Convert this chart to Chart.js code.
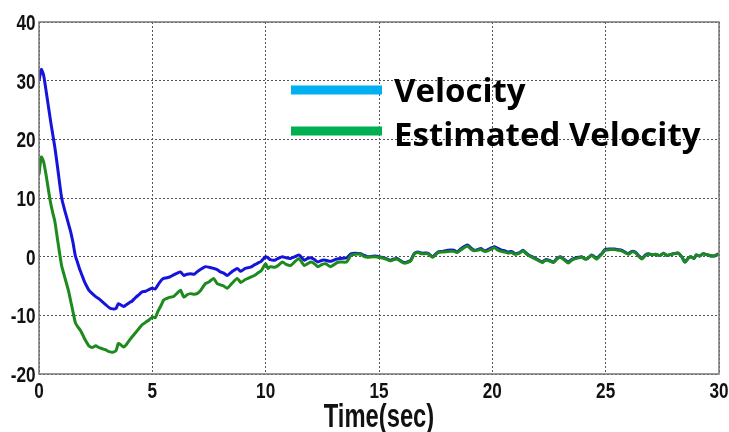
<!DOCTYPE html>
<html>
<head>
<meta charset="utf-8">
<script src="https://cdn.jsdelivr.net/npm/chart.js@4"></script>
<style>
  html, body { margin: 0; padding: 0; background: #fff; }
  #wrap { width: 729px; height: 432px; }
</style>
</head>
<body>
<div id="wrap"><canvas id="myChart" width="729" height="432"></canvas></div>
<script>
// time (sec)
const timeSec = [
  0.00, 0.10, 0.20, 0.30, 0.40, 0.50, 0.60, 0.70, 0.80, 0.90,
  1.00, 1.10, 1.20, 1.30, 1.40, 1.50, 1.60, 1.70, 1.80, 1.90,
  2.00, 2.10, 2.20, 2.35, 2.50, 2.65, 2.80, 2.95, 3.10, 3.25,
  3.40, 3.50, 3.60, 3.73, 3.85, 4.00, 4.10, 4.25, 4.40, 4.55,
  4.70, 4.85, 5.00, 5.13, 5.25, 5.40, 5.50, 5.65, 5.80, 5.94,
  6.10, 6.24, 6.39, 6.53, 6.68, 6.85, 6.97, 7.12, 7.34, 7.50,
  7.70, 7.86, 8.00, 8.15, 8.30, 8.50, 8.75, 8.90, 9.10, 9.33,
  9.50, 9.65, 9.80, 10.00, 10.10, 10.20, 10.40, 10.55, 10.74, 10.90,
  11.10, 11.30, 11.47, 11.60, 11.70, 11.85, 12.00, 12.15, 12.30, 12.50,
  12.65, 12.85, 13.00, 13.15, 13.30, 13.57, 13.76, 13.95, 14.20, 14.35,
  14.50, 14.80, 15.10, 15.30, 15.50, 15.65, 15.80, 16.00, 16.10, 16.25,
  16.40, 16.55, 16.70, 16.90, 17.15, 17.37, 17.60, 17.80, 18.04, 18.30,
  18.45, 18.63, 18.90, 19.05, 19.20, 19.35, 19.50, 19.65, 19.80, 19.95,
  20.10, 20.25, 20.40, 20.55, 20.70, 20.85, 21.00, 21.20, 21.35, 21.50,
  21.60, 21.75, 21.90, 22.05, 22.20, 22.35, 22.50, 22.70, 22.85, 23.00,
  23.15, 23.35, 23.50, 23.60, 23.80, 23.94, 24.10, 24.20, 24.38, 24.50,
  24.60, 24.82, 24.97, 25.20, 25.40, 25.55, 25.70, 25.85, 26.00, 26.15,
  26.30, 26.45, 26.60, 26.75, 26.90, 27.05, 27.20, 27.40, 27.55, 27.70,
  27.80, 28.00, 28.20, 28.35, 28.50, 28.65, 28.75, 28.90, 29.00, 29.15,
  29.30, 29.50, 29.70, 29.85, 30.00
];

const velocity = [
  30.0, 31.9, 31.0, 28.6, 26.0, 23.4, 21.0, 18.6, 15.8, 12.8,
  10.0, 8.4, 7.0, 5.6, 4.2, 2.4, 0.2, -1.0, -2.2, -3.2,
  -4.2, -5.0, -5.7, -6.3, -6.8, -7.2, -7.7, -8.2, -8.7, -8.9,
  -8.8, -8.0, -8.2, -8.5, -8.2, -7.8, -7.6, -7.0, -6.5, -6.0,
  -5.9, -5.6, -5.4, -5.5, -4.8, -4.0, -3.7, -3.6, -3.4, -3.1,
  -2.8, -2.6, -3.2, -3.0, -2.9, -3.0, -2.6, -2.2, -1.7, -1.8,
  -2.0, -2.2, -2.6, -2.8, -3.2, -2.6, -2.0, -2.5, -2.0, -1.8,
  -1.4, -1.1, -0.8, 0.0, -0.2, -0.5, -0.6, -0.3, 0.0, -0.2,
  -0.3, 0.0, 0.3, -0.2, -0.6, -0.3, -0.2, -0.5, -0.9, -0.6,
  -0.6, -0.8, -0.6, -0.4, -0.3, -0.2, 0.5, 0.6, 0.5, 0.2,
  0.0, 0.1, -0.1, -0.3, -0.6, -0.4, -0.3, -0.8, -1.0, -0.9,
  -0.6, 0.5, 0.8, 0.6, 0.6, 0.0, 0.8, 0.9, 1.1, 1.1,
  0.8, 1.4, 2.0, 1.5, 1.1, 1.2, 1.4, 1.0, 1.2, 1.5,
  1.7, 1.4, 1.1, 1.0, 0.8, 0.9, 0.5, 0.7, 1.1, 0.6,
  0.3, 0.0, -0.3, -0.6, -0.9, -0.5, -0.6, -0.9, -0.3, 0.0,
  -0.4, -0.9, -0.5, -0.3, -0.1, 0.0, -0.4, -0.3, 0.3, 0.0,
  -0.3, 0.5, 1.2, 1.3, 1.3, 1.2, 1.1, 0.8, 0.5, 0.9,
  0.8, 0.2, -0.3, 0.3, 0.5, 0.3, 0.4, 0.2, 0.6, 0.2,
  0.3, 0.5, 0.6, 0.0, -0.9, -0.2, 0.0, -0.3, 0.3, 0.1,
  0.5, 0.3, 0.1, 0.2, 0.5
];

const estimatedVelocity = [
  14.0, 17.0, 16.2, 14.2, 11.8, 9.4, 7.6, 6.0, 3.4, 0.8,
  -1.6, -3.0, -4.4, -5.8, -7.6, -9.4, -11.2, -11.9, -12.4, -13.1,
  -13.9, -14.6, -15.2, -15.5, -15.2, -15.5, -15.7, -15.9, -16.2, -16.3,
  -16.0, -14.8, -15.0, -15.4, -15.0, -14.2, -13.7, -13.0, -12.3, -11.6,
  -11.2, -10.8, -10.3, -10.4, -9.3, -8.2, -7.4, -7.1, -6.9, -6.8,
  -6.2, -5.7, -6.9, -6.5, -6.3, -6.4, -6.3, -5.8, -4.6, -4.3,
  -3.7, -4.6, -4.8, -5.0, -5.4, -4.6, -3.7, -4.4, -3.9, -3.5,
  -3.2, -2.8, -2.4, -1.2, -2.0, -1.7, -1.8, -1.5, -0.9, -1.3,
  -1.5, -0.8, -0.3, -1.0, -1.5, -1.2, -0.9, -1.2, -1.7, -1.3,
  -1.2, -1.7, -1.4, -1.0, -0.9, -0.9, 0.2, 0.4, 0.4, 0.0,
  -0.1, 0.0, -0.2, -0.4, -0.7, -0.5, -0.4, -0.9, -1.1, -1.0,
  -0.7, 0.4, 0.7, 0.5, 0.5, -0.1, 0.7, 0.8, 0.9, 0.9,
  0.7, 1.2, 1.8, 1.3, 1.0, 1.1, 1.2, 0.9, 1.0, 1.3,
  1.5, 1.1, 0.9, 0.8, 0.6, 0.7, 0.4, 0.6, 1.0, 0.5,
  0.2, -0.1, -0.4, -0.7, -1.0, -0.6, -0.7, -1.0, -0.4, -0.1,
  -0.5, -1.1, -0.6, -0.4, -0.2, -0.1, -0.4, -0.3, 0.2, -0.1,
  -0.4, 0.4, 1.1, 1.2, 1.2, 1.1, 1.0, 0.7, 0.4, 0.8,
  0.7, 0.1, -0.4, 0.2, 0.4, 0.3, 0.4, 0.2, 0.6, 0.2,
  0.3, 0.5, 0.6, 0.0, -0.9, -0.2, 0.0, -0.3, 0.3, 0.1,
  0.5, 0.3, 0.1, 0.2, 0.5
];

const seriesLabels = ["Velocity", "Estimated Velocity"];
const legendColors = ["#00b0f0", "#00b050"];
const xTitle = "Time(sec)";

// narrow bold labels: the scale's own ticks, squeezed sideways
const narrowLabels = {
  id: "narrowLabels",
  afterDraw(chart) {
    const ctx = chart.ctx;
    const xs = chart.scales.x;
    const ys = chart.scales.y;
    ctx.save();
    ctx.fillStyle = "#111";
    ctx.textBaseline = "alphabetic";
    ctx.font = "bold 22px 'Liberation Sans', Arial, sans-serif";

    ys.ticks.forEach(t => {
      const py = ys.getPixelForValue(t.value);
      ctx.save();
      ctx.translate(35.5, py + 8);
      ctx.scale(0.78, 1);
      ctx.textAlign = "right";
      ctx.fillText(t.label, 0, 0);
      ctx.restore();
    });

    xs.ticks.forEach(t => {
      const px = xs.getPixelForValue(t.value);
      ctx.save();
      ctx.translate(px, 398);
      ctx.scale(0.78, 1);
      ctx.textAlign = "center";
      ctx.fillText(t.label, 0, 0);
      ctx.restore();
    });

    ctx.font = "bold 33px 'Liberation Sans', Arial, sans-serif";
    ctx.save();
    ctx.translate((xs.left + xs.right) / 2, 427);
    ctx.scale(0.72, 1);
    ctx.textAlign = "center";
    ctx.fillText(xTitle, 0, 0);
    ctx.restore();

    ctx.restore();
  }
};

// legend drawn inside the plot, like the original picture
const innerLegend = {
  id: "innerLegend",
  afterDraw(chart) {
    const ctx = chart.ctx;
    ctx.save();
    const rows = [90, 131];
    const baselines = [102, 146];
    ctx.font = "bold 33px 'Open Sans', 'Noto Sans', sans-serif";
    ctx.textBaseline = "alphabetic";
    ctx.fillStyle = "#000";
    rows.forEach((y, i) => {
      ctx.strokeStyle = legendColors[i];
      ctx.lineWidth = 9;
      ctx.beginPath();
      ctx.moveTo(291, y);
      ctx.lineTo(382, y);
      ctx.stroke();
      ctx.fillText(seriesLabels[i], 394, baselines[i]);
    });
    ctx.restore();
  }
};

// solid frame round the plot area
const frameBox = {
  id: "frameBox",
  afterDatasetsDraw(chart) {
    const a = chart.chartArea;
    const ctx = chart.ctx;
    ctx.save();
    ctx.strokeStyle = "#777";
    ctx.lineWidth = 1.5;
    ctx.strokeRect(a.left, a.top, a.right - a.left, a.bottom - a.top);
    ctx.restore();
  }
};

const ctx = document.getElementById("myChart");
const myChart = new Chart(ctx, {
  type: "line",
  data: {
    datasets: [
      {
        label: seriesLabels[0],
        data: timeSec.map((t, i) => ({ x: t, y: velocity[i] })),
        borderColor: "#1414dc",
        borderWidth: 3,
        pointRadius: 0,
        tension: 0.2,
        order: 2
      },
      {
        label: seriesLabels[1],
        data: timeSec.map((t, i) => ({ x: t, y: estimatedVelocity[i] })),
        borderColor: "#1c8a1c",
        borderWidth: 3,
        pointRadius: 0,
        tension: 0.2,
        order: 1
      }
    ]
  },
  options: {
    responsive: false,
    animation: false,
    layout: { padding: { top: 22, right: 10, left: 0, bottom: 0 } },
    plugins: {
      legend: { display: false },
      tooltip: { enabled: false }
    },
    scales: {
      x: {
        type: "linear",
        min: 0,
        max: 30,
        ticks: { stepSize: 5, display: false },
        grid: { color: "#555", lineWidth: 1, drawTicks: false },
        border: { display: false, dash: [2, 2] },
        afterFit(scale) { scale.height = 58; }
      },
      y: {
        min: -20,
        max: 40,
        ticks: { stepSize: 10, display: false },
        grid: { color: "#555", lineWidth: 1, drawTicks: false },
        border: { display: false, dash: [2, 2] },
        afterFit(scale) { scale.width = 39; }
      }
    }
  },
  plugins: [frameBox, innerLegend, narrowLabels]
});
</script>
</body>
</html>
